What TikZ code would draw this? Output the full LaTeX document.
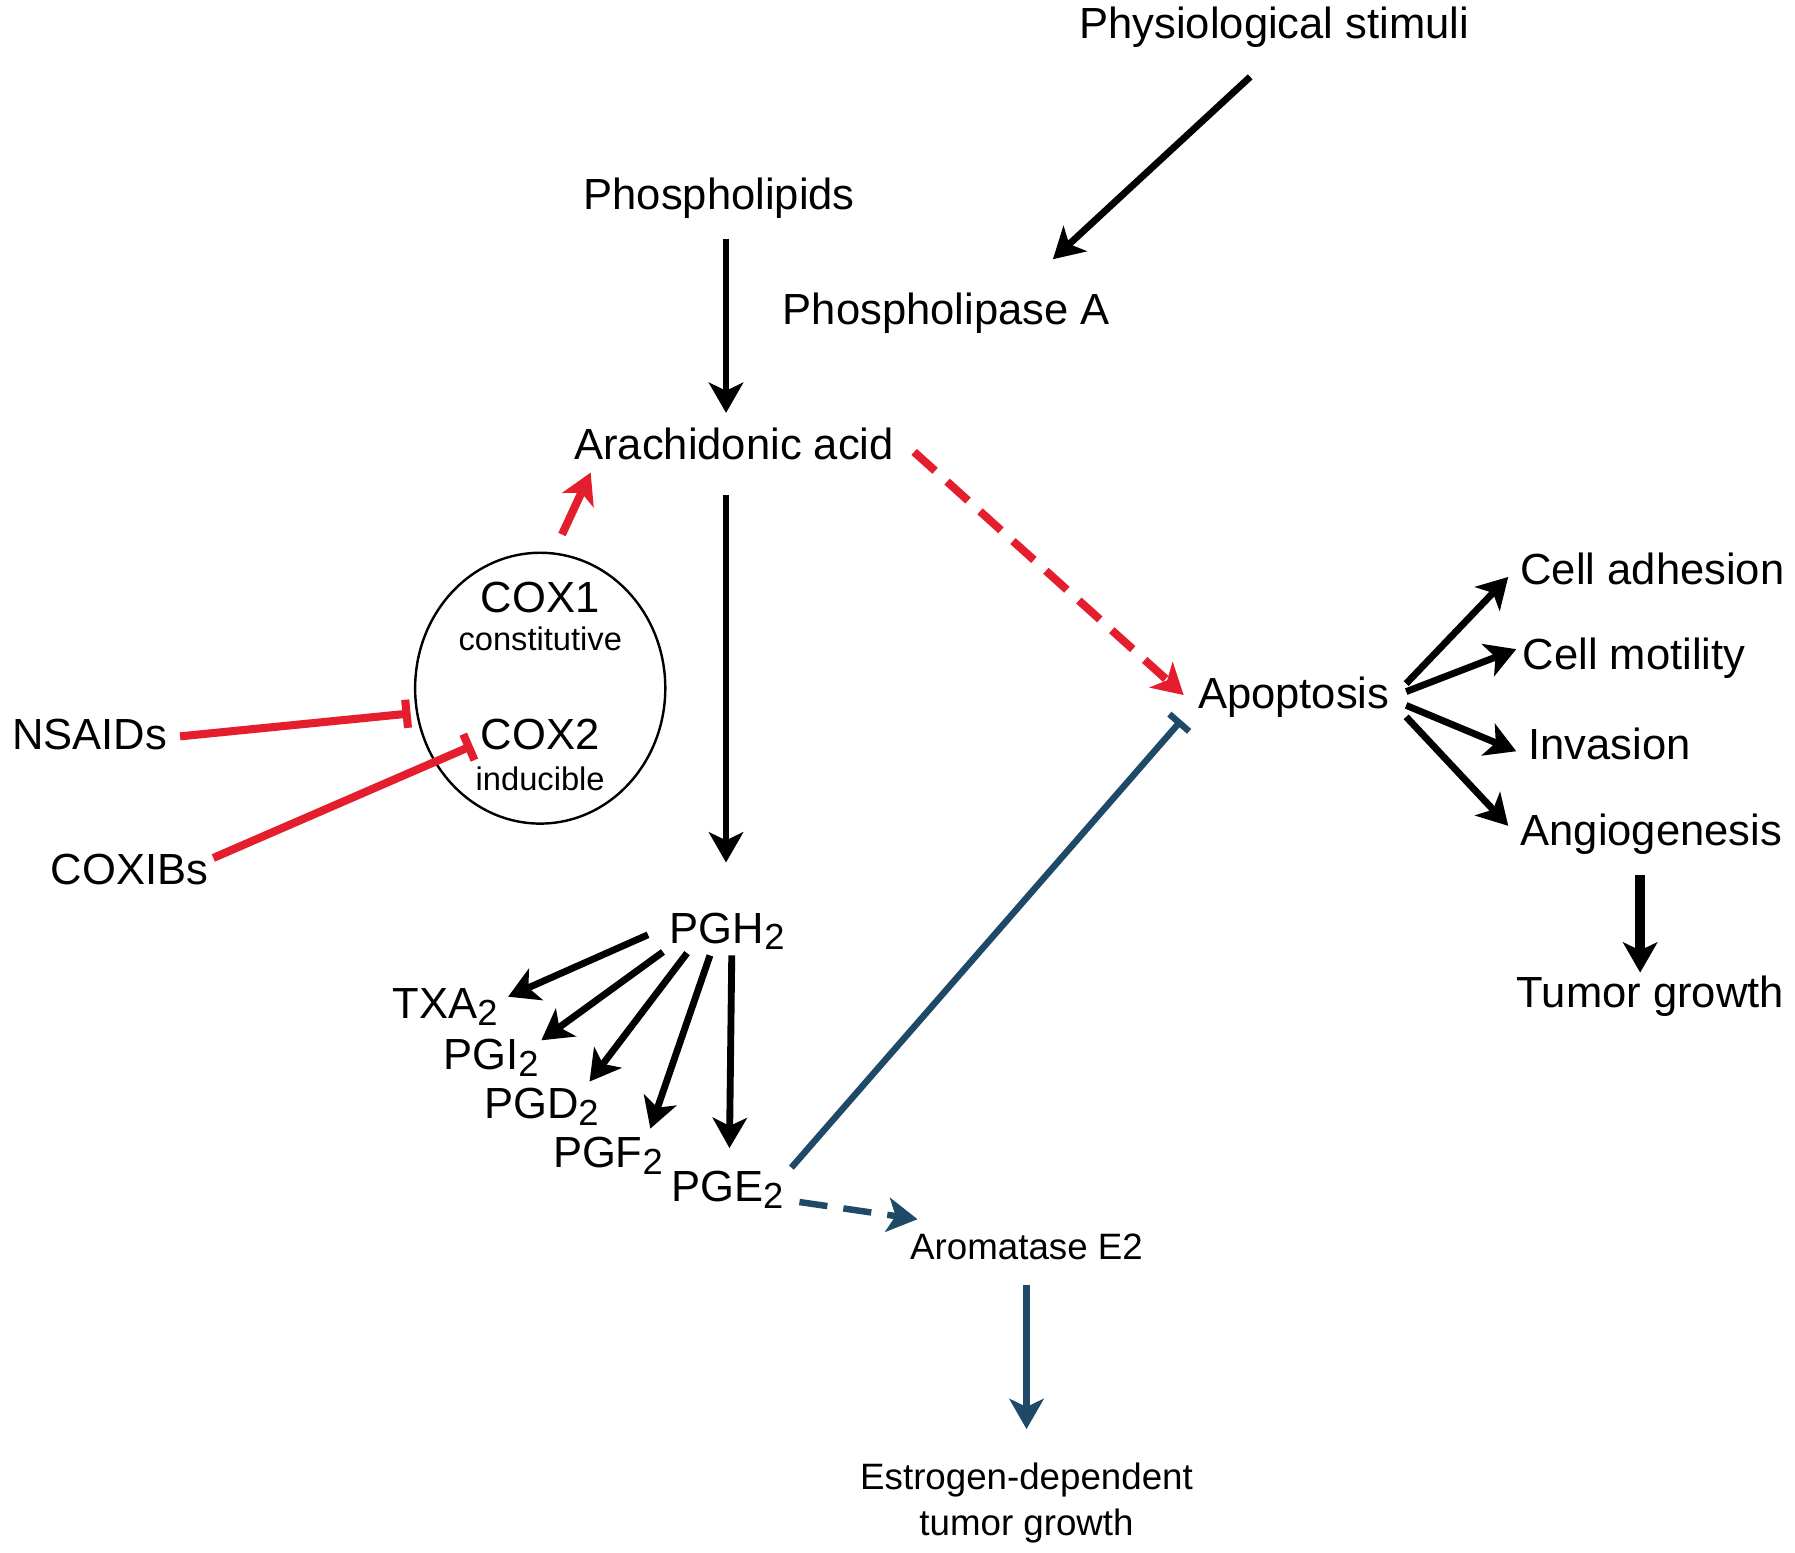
\documentclass[tikz,border=0pt]{standalone}
\usepackage{fontspec}
\setmainfont{Liberation Sans}
\usetikzlibrary{arrows.meta,shapes.geometric,calc}
\definecolor{coxred}{RGB}{228,30,45}
\definecolor{pgblue}{RGB}{30,74,104}
\newcommand{\subtwo}{\raisebox{-1.7pt}{\fontsize{9}{9}\selectfont 2}}
\tikzset{
  lbl/.style={inner sep=0pt, font=\fontsize{10.8}{13}\selectfont},
  small/.style={inner sep=0pt, font=\fontsize{8.1}{10}\selectfont},
  mid/.style={inner sep=0pt, align=center, font=\fontsize{9.1}{11.4}\selectfont},
  arr/.style={line width=1.7pt, -{Stealth[length=7.5pt,width=8.5pt,inset=2pt]}},
  redarr/.style={arr, coxred, line width=2pt},
  redbar/.style={coxred, line width=2pt, -{Bar[width=7pt]}},
  bluearr/.style={arr, pgblue, line width=1.6pt}
}
\begin{document}
\begin{tikzpicture}[x=0.01cm, y=-0.01cm]
\useasboundingbox (0,0) rectangle (1565,1354);

\node[lbl] (stim) at (1111,24) {Physiological stimuli};
\node[lbl] (phl) at (627,173) {Phospholipids};
\node[lbl] (pla) at (825,273) {Phospholipase A};
\node[lbl] (aa) at (640,387) {Arachidonic acid};

\node[draw, ellipse, line width=.6pt, minimum width=2.18cm, minimum height=2.36cm] (cox) at (471,600) {};
\node[lbl] (cox1) at (471,521) {COX1};
\node[small] (cons) at (471,557) {constitutive};
\node[lbl] (cox2) at (471,640) {COX2};
\node[small] (indu) at (471,679) {inducible};
\node[lbl] (nsaid) at (78,640) {NSAIDs};
\node[lbl] (coxib) at (113,758) {COXIBs};

\node[lbl] (pgh) at (634,812) {PGH\subtwo};
\node[lbl] (txa) at (388,878) {TXA\subtwo};
\node[lbl] (pgi) at (428,922) {PGI\subtwo};
\node[lbl] (pgd) at (472,965) {PGD\subtwo};
\node[lbl] (pgf) at (530,1008) {PGF\subtwo};
\node[lbl] (pge) at (634,1037) {PGE\subtwo};

\node[mid] (arom) at (895,1087) {Aromatase E2};
\node[mid] (estr) at (895,1310) {Estrogen-dependent\\tumor growth};

\node[lbl] (apop) at (1128,608) {Apoptosis};
\node[lbl, anchor=west] (adh) at (1325,496) {Cell adhesion};
\node[lbl, anchor=west] (mot) at (1327,574) {Cell motility};
\node[lbl, anchor=west] (inv) at (1332,649) {Invasion};
\node[lbl, anchor=west] (ang) at (1325,727) {Angiogenesis};
\node[lbl] (tum) at (1439,869) {Tumor growth};

\draw[arr] ($(stim)+(-21,43)$)--($(pla)+(93,-47)$);
\draw[arr] ($(phl)+(6,35)$)--($(aa)+(-7,-27)$);
\draw[arr] ($(aa)+(-7,45)$)--($(pgh)+(-1,-60)$);

\draw[redarr] ($(cox)+(19,-134)$)--($(aa)+(-125,25)$);
\draw[redarr, dash pattern=on 7pt off 4pt] ($(aa)+(157,7)$)--($(apop)+(-96,-2)$);
\draw[redbar] ($(nsaid)+(79,2)$)--($(cox)+(-113,22)$);
\draw[redbar] ($(coxib)+(73,-10)$)--($(cox)+(-59,50)$);

\foreach \a/\b/\t/\c/\d in {-69/3/txa/55/-9, -56/18/pgi/44/-15, -35/19/pgd/42/-22, -15/21/pgf/37/-24, 4/21/pge/2/-36}
{
    \draw[arr] ($(pgh)+(\a,\b)$)--($(\t)+(\c,\d)$);
}

\draw[pgblue, line width=1.6pt, -{Bar[width=6.5pt]}] ($(pge)+(56,-19)$)--($(apop)+(-98,20)$);
\draw[bluearr, dash pattern=on 7pt off 4pt] ($(pge)+(63,11)$)--($(arom)+(-95,-24)$);
\draw[bluearr] ($(arom)+(0,33)$)--($(estr)+(0,-64)$);

\foreach \b/\t/\c/\d in {-12/adh/-10/7, -5/mot/-5/-8, 7/inv/-10/6, 17/ang/-10/-7}
{
    \draw[arr] ($(apop)+(98,\b)$)--($(\t.west)+(\c,\d)$);
}
\draw[arr, line width=2.6pt] ($(ang.west)+(105,36)$)--($(tum)+(-9,-21)$);

\end{tikzpicture}
\end{document}
